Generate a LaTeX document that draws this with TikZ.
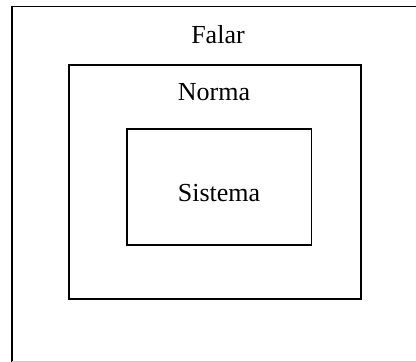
\documentclass[tikz,border=0pt]{standalone}
\usepackage{fontspec}
\setmainfont{Liberation Serif}
\begin{document}
\begin{tikzpicture}[x=1pt,y=-1pt,
  box/.style={draw=black,line width=1.6pt,inner sep=0pt,minimum width=#1},
  lbl/.style={anchor=base,inner sep=0pt,font=\fontsize{26}{31}\selectfont}]
\useasboundingbox (0,0) rectangle (416,362);
% outer frame (cropped)
\coordinate (otr) at (416,6.5);
\coordinate (otl) at (11.8,6.5);
\coordinate (obl) at (11.8,362);
\draw[line width=1.6pt] (otr) -- (otl) -- (obl);
\coordinate (gbl) at (11.8,361);
\coordinate (gbr) at (416,361);
\draw[line width=1pt,black!20] (gbl) -- (gbr);
% middle and inner boxes
\node[box=292pt,minimum height=233.7pt] (norma) at (215,181.85) {};
\node[box=184.7pt,minimum height=116.2pt] (sistema) at (219.15,187.1) {};
% labels
\node[lbl] (tfalar) at (218,43.3) {Falar};
\node[lbl] (tnorma) at (214,100) {Norma};
\node[lbl] (tsistema) at (219,201.7) {Sistema};
\end{tikzpicture}
\end{document}
